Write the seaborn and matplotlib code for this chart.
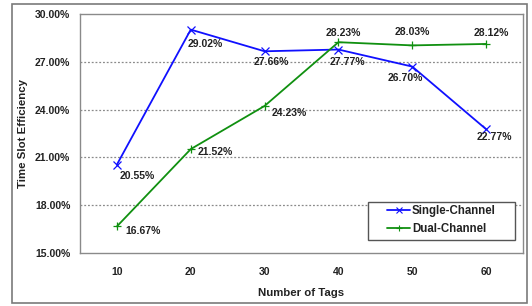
import matplotlib
matplotlib.use("Agg")
import matplotlib.pyplot as plt
from matplotlib.patches import Rectangle
from matplotlib.ticker import FixedLocator, FuncFormatter
import seaborn as sns
import pandas as pd

tags = ["10", "20", "30", "40", "50", "60"]
single = [20.55, 29.02, 27.66, 27.77, 26.70, 22.77]
dual = [16.67, 21.52, 24.23, 28.23, 28.03, 28.12]
series_names = ["Single-Channel", "Dual-Channel"]
yticks = [15, 18, 21, 24, 27, 30]

# label offsets in pixels (dx, dy)
single_off = [(20, -11), (15, -14), (7, -11), (9, -12), (-7, -11), (8, -8)]
dual_off = [(26, -5), (25, -3), (25, -7), (5, 9), (0, 13), (5, 11)]

sns.set_theme(style="white")
plt.rcParams['font.family'] = ['Liberation Sans', 'DejaVu Sans']
plt.rcParams['font.weight'] = 'bold'

df = pd.DataFrame({
    "tags": tags * 2,
    "value": single + dual,
    "series": [series_names[0]] * len(tags) + [series_names[1]] * len(tags),
})

fig = plt.figure(figsize=(5.32, 3.06), dpi=100)
W, H = 532, 306
ax = fig.add_axes([80 / W, 1 - 253 / H, (523 - 80) / W, (253 - 14) / H])

# outer border
fig.patches.append(Rectangle((12 / W, 1 - 303 / H), (527 - 12) / W, (303 - 4) / H,
                             transform=fig.transFigure, fill=False,
                             edgecolor="#7a7a7a", linewidth=1.2))

palette = {series_names[0]: "#1010ff", series_names[1]: "#109010"}
sns.lineplot(data=df, x="tags", y="value", hue="series", style="series",
             markers={series_names[0]: "x", series_names[1]: "+"},
             dashes=False, palette=palette, linewidth=1.3, markersize=5.5,
             ax=ax, legend=True)
for ln in ax.lines:
    ln.set_markeredgecolor(ln.get_color())
    ln.set_markeredgewidth(0.9)

ax.set_xlim(-0.5, 5.5)
ax.set_ylim(15, 30)
ax.set_yticks(yticks)
ax.yaxis.set_major_formatter(FuncFormatter(lambda v, p: f"{v:.2f}%"))
for y in yticks[1:-1]:
    ax.axhline(y, color="#8a8a8a", linestyle=(0, (1.5, 1.5)), linewidth=0.9, zorder=0)

ax.xaxis.set_minor_locator(FixedLocator([0.5, 1.5, 2.5, 3.5, 4.5]))
ax.tick_params(axis="x", which="major", length=0, pad=10, labelsize=7.5, labelcolor="#222222")
ax.tick_params(axis="x", which="minor", length=3, direction="in", color="#808080", width=0.8)
ax.tick_params(axis="y", which="major", length=0, pad=7, labelsize=7.5, labelcolor="#222222")
for lab in ax.get_xticklabels() + ax.get_yticklabels():
    lab.set_fontweight("bold")

for s in ax.spines.values():
    s.set_color("#8a8a8a")
    s.set_linewidth(1.0)

ax.set_xlabel("Number of Tags", fontsize=8.2, fontweight="bold", color="#222222", labelpad=8)
ax.set_ylabel("Time Slot Efficiency", fontsize=8.2, fontweight="bold", color="#222222", labelpad=5)

for i, v in enumerate(single):
    ax.annotate(f"{v:.2f}%", (i, v), xytext=single_off[i], textcoords="offset pixels",
                ha="center", va="center", fontsize=7.5, fontweight="bold", color="#222222")
for i, v in enumerate(dual):
    ax.annotate(f"{v:.2f}%", (i, v), xytext=dual_off[i], textcoords="offset pixels",
                ha="center", va="center", fontsize=7.5, fontweight="bold", color="#222222")

leg = ax.legend(loc="upper left", bbox_to_anchor=(387 / W, 1 - 205 / H),
                bbox_transform=fig.transFigure, fontsize=8.3, frameon=False,
                handlelength=2.0, handletextpad=0.15, borderpad=0.0,
                borderaxespad=0.0, labelspacing=0.5)
for t in leg.get_texts():
    t.set_fontweight("bold")
    t.set_color("#222222")
for h in leg.legend_handles:
    h.set_markeredgecolor(h.get_color())
    h.set_markeredgewidth(0.8)
    h.set_markersize(4.5)
leg.set_zorder(6)

# legend frame
ax.add_patch(Rectangle((368 / W, 1 - 240 / H), (515 - 368) / W, (240 - 202) / H,
                       transform=fig.transFigure, fill=True, facecolor="white",
                       edgecolor="#555555", linewidth=1.0, zorder=5, clip_on=False))

fig.savefig("out.png", dpi=100)
